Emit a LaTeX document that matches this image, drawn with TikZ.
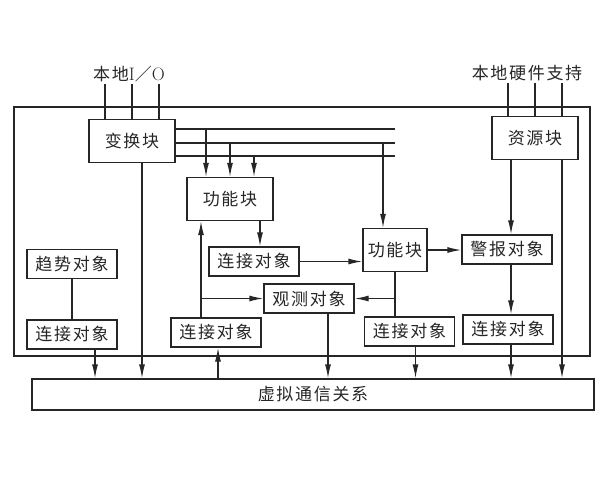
\documentclass[tikz,border=0pt]{standalone}
\usepackage{fontspec}
\newfontfamily\cjk[LetterSpace=10]{Noto Sans CJK SC}
\usetikzlibrary{arrows.meta}
\definecolor{ink}{HTML}{262626}
\tikzset{
  wire/.style={draw=ink, line width=1.3pt},
  arrow/.style={wire, -{Latex[length=14pt,width=6pt]}},
  box/.style={wire, text=ink, font=\cjk\fontsize{17}{19}\selectfont, inner sep=0pt, minimum width=90pt, minimum height=29pt},
  block/.style={box, minimum width=86pt, minimum height=43pt},
  lbl/.style={text=ink, font=\cjk\fontsize{17}{19}\selectfont, inner sep=2pt}
}

\begin{document}
\begin{tikzpicture}[x=1pt, y=-1pt]
\useasboundingbox (0,0) rectangle (600,480);
% frame of the device
\draw[wire] (14,107) rectangle (590,356);
% blocks
\node[block] (trans) at (132,141) {变换块};
\node[block] (res) at (535,138) {资源块};
\node[block] (func1) at (230,199) {功能块};
\node[block, minimum width=64pt] (func2) at (395,250) {功能块};
\node[box] (alarm) at (507,249.5) {警报对象};
\node[box] (connA) at (254,261.5) {连接对象};
\node[box] (obs) at (309,298.5) {观测对象};
\node[box] (connB) at (216,332.5) {连接对象};
\node[box] (connC) at (409.5,331.5) {连接对象};
\node[box] (connD) at (508,329.5) {连接对象};
\node[box] (trend) at (72,264) {趋势对象};
\node[box] (connE) at (72,334.5) {连接对象};
\node[box, minimum width=562pt, minimum height=31pt] (comm) at (313,394.5) {虚拟通信关系};
\node[lbl] (io) at (129,74) {本地{\rmfamily\fontsize{18}{19}\selectfont I}／{\rmfamily\fontsize{18}{19}\selectfont O}};
\node[lbl] (hw) at (527,73) {本地硬件支持};
% local inputs
\foreach \dx in {-27,0,27} {
  \draw[wire] ([xshift=\dx pt]trans.north |- io.south) -- ([xshift=\dx pt]trans.north);
  \draw[wire] ([xshift=\dx pt]res.north |- hw.south) -- ([xshift=\dx pt]res.north);
}
% bus out of the conversion block
\coordinate (b1) at (395,129);
\coordinate (b2) at (395,143);
\coordinate (b3) at (395,156);
\foreach \b in {b1,b2,b3} {\draw[wire] (trans.east |- \b) -- (\b);}
\foreach \dx/\b in {-24/b1,0/b2,24/b3} {\draw[arrow] ([xshift=\dx pt]func1.north |- \b) -- ([xshift=\dx pt]func1.north);}
\draw[arrow] ([xshift=-12pt]func2.north |- b2) -- ([xshift=-12pt]func2.north);
% links
\draw[arrow] ([xshift=10pt]trans.south) -- ([xshift=10pt]trans.south |- comm.north);
\draw[arrow] ([xshift=-24pt]res.south) -- ([xshift=-24pt]res.south |- alarm.north);
\draw[arrow] ([xshift=27pt]res.south) -- ([xshift=27pt]res.south |- comm.north);
\draw[arrow] ([xshift=30pt]func1.south) -- ([xshift=30pt]func1.south |- connA.north);
\draw[arrow] (connA.east) -- (connA.east -| func2.west);
\draw[arrow] (func2.east) -- (func2.east -| alarm.west);
\draw[arrow] ([xshift=4pt]alarm.south) -- ([xshift=4pt]alarm.south |- connD.north);
\draw[arrow] ([xshift=3pt]connD.south) -- ([xshift=3pt]connD.south |- comm.north);
\draw[wire] (func2.south) -- (func2.south |- connC.north);
\draw[arrow] (func2.south |- obs.east) -- (obs.east);
\draw[arrow] ([xshift=6pt]connC.south) -- ([xshift=6pt]connC.south |- comm.north);
\draw[arrow] ([xshift=-15pt]connB.north) -- ([xshift=-15pt]connB.north |- func1.south);
\draw[arrow] ([xshift=-15pt]connB.north |- obs.west) -- (obs.west);
\draw[arrow] ([xshift=2pt]connB.south |- comm.north) -- ([xshift=2pt]connB.south);
\draw[arrow] ([xshift=19pt]obs.south) -- ([xshift=19pt]obs.south |- comm.north);
\draw[wire] (trend.south) -- (connE.north);
\draw[arrow] ([xshift=23pt]connE.south) -- ([xshift=23pt]connE.south |- comm.north);
\end{tikzpicture}
\end{document}
